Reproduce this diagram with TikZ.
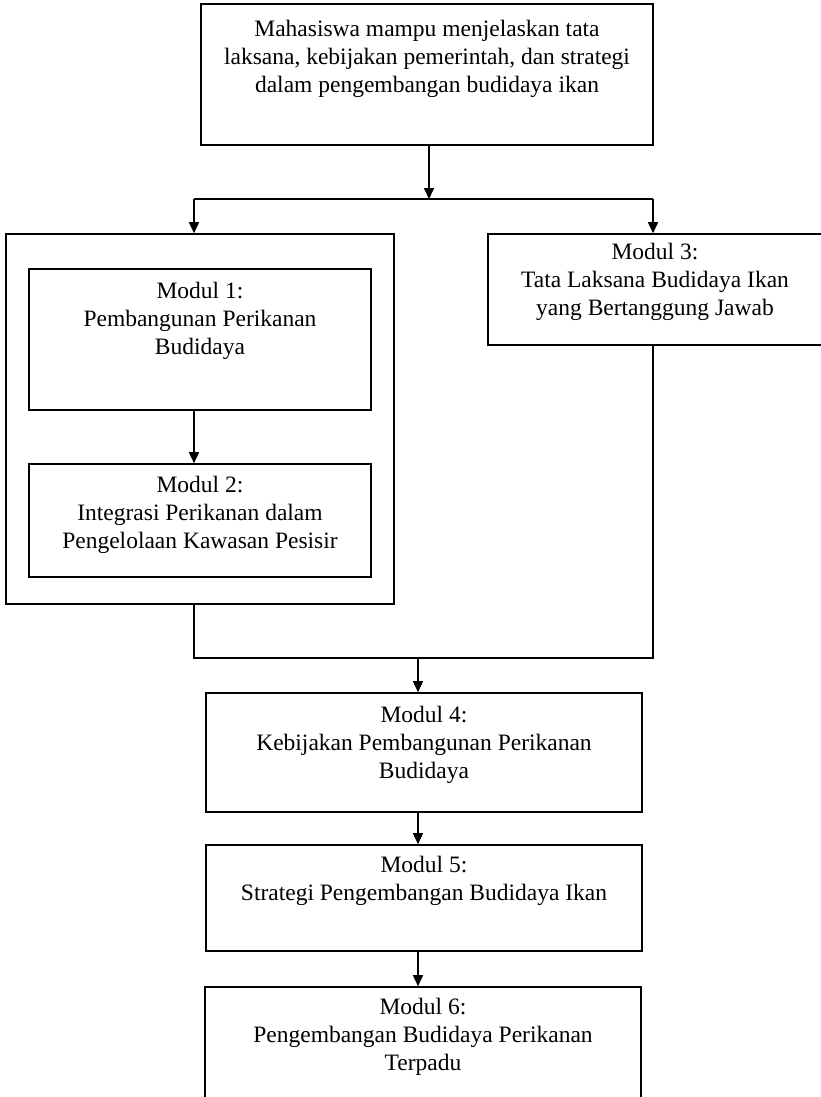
\documentclass[tikz,border=0pt]{standalone}
\usepackage{fontspec}
\setmainfont{Liberation Serif}
\usetikzlibrary{arrows.meta}
\tikzset{
  box/.style={draw=black, line width=1.6pt, rectangle, inner sep=0pt},
  txt/.style={align=center, inner sep=0pt, anchor=north,
    font=\fontsize{23.5}{28}\selectfont},
  conn/.style={draw=black, line width=1.6pt},
  arr/.style={conn, -{Triangle[length=11pt,width=10pt]}},
}
\newcommand{\fs}{\rule{0pt}{20pt}}
\begin{document}
\begin{tikzpicture}[x=1pt,y=-1pt]
\useasboundingbox (0,0) rectangle (821,1097);
\clip (0,0) rectangle (821,1097);
\fill[white] (0,0) rectangle (821,1097);
% boxes
\node[box, minimum width=452pt, minimum height=141pt] (top) at (427,74.5) {};
\node[box, minimum width=388pt, minimum height=370pt] (outer) at (200,419) {};
\node[box, minimum width=342pt, minimum height=141pt] (m1) at (200,339.5) {};
\node[box, minimum width=342pt, minimum height=113pt] (m2) at (200,520.5) {};
\node[box, minimum width=334pt, minimum height=111pt] (m3) at (655,289.5) {};
\node[box, minimum width=436pt, minimum height=119pt] (m4) at (424,752.5) {};
\node[box, minimum width=436pt, minimum height=106pt] (m5) at (424,898) {};
\node[box, minimum width=436pt, minimum height=120pt] (m6) at (423,1047) {};
% texts
\node[txt] (t0) at ([yshift=-13pt]top.north) {\fs Mahasiswa mampu menjelaskan tata\\laksana, kebijakan pemerintah, dan strategi\\dalam pengembangan budidaya ikan};
\node[txt] (t1) at ([yshift=-10pt]m1.north) {\fs Modul 1:\\Pembangunan Perikanan\\Budidaya};
\node[txt] (t2) at ([yshift=-9pt]m2.north) {\fs Modul 2:\\Integrasi Perikanan dalam\\Pengelolaan Kawasan Pesisir};
\node[txt] (t3) at ([yshift=-6pt]m3.north) {\fs Modul 3:\\Tata Laksana Budidaya Ikan\\yang Bertanggung Jawab};
\node[txt] (t4) at ([yshift=-10pt]m4.north) {\fs Modul 4:\\Kebijakan Pembangunan Perikanan\\Budidaya};
\node[txt] (t5) at ([yshift=-8pt]m5.north) {\fs Modul 5:\\Strategi Pengembangan Budidaya Ikan};
\node[txt] (t6) at ([yshift=-8pt]m6.north) {\fs Modul 6:\\Pengembangan Budidaya Perikanan\\Terpadu};
% connector coordinates
\coordinate (split) at (429,199);
\coordinate (jl) at (194,199);
\coordinate (jr) at (653,199);
\coordinate (merge) at (418,658);
% connectors
\draw[arr] (top.south -| split) -- (split);
\draw[conn] (jl) -- (jr);
\draw[arr] (jl) -- (jl |- outer.north);
\draw[arr] (jr) -- (jr |- m3.north);
\draw[arr] (m1.south -| jl) -- (m2.north -| jl);
\draw[conn] (m3.south -| jr) -- (jr |- merge) -- (jl |- merge) -- (outer.south -| jl);
\draw[arr] (merge) -- (m4.north -| merge);
\draw[arr] (m4.south -| merge) -- (m5.north -| merge);
\draw[arr] (m5.south -| merge) -- (m6.north -| merge);
\end{tikzpicture}
\end{document}
